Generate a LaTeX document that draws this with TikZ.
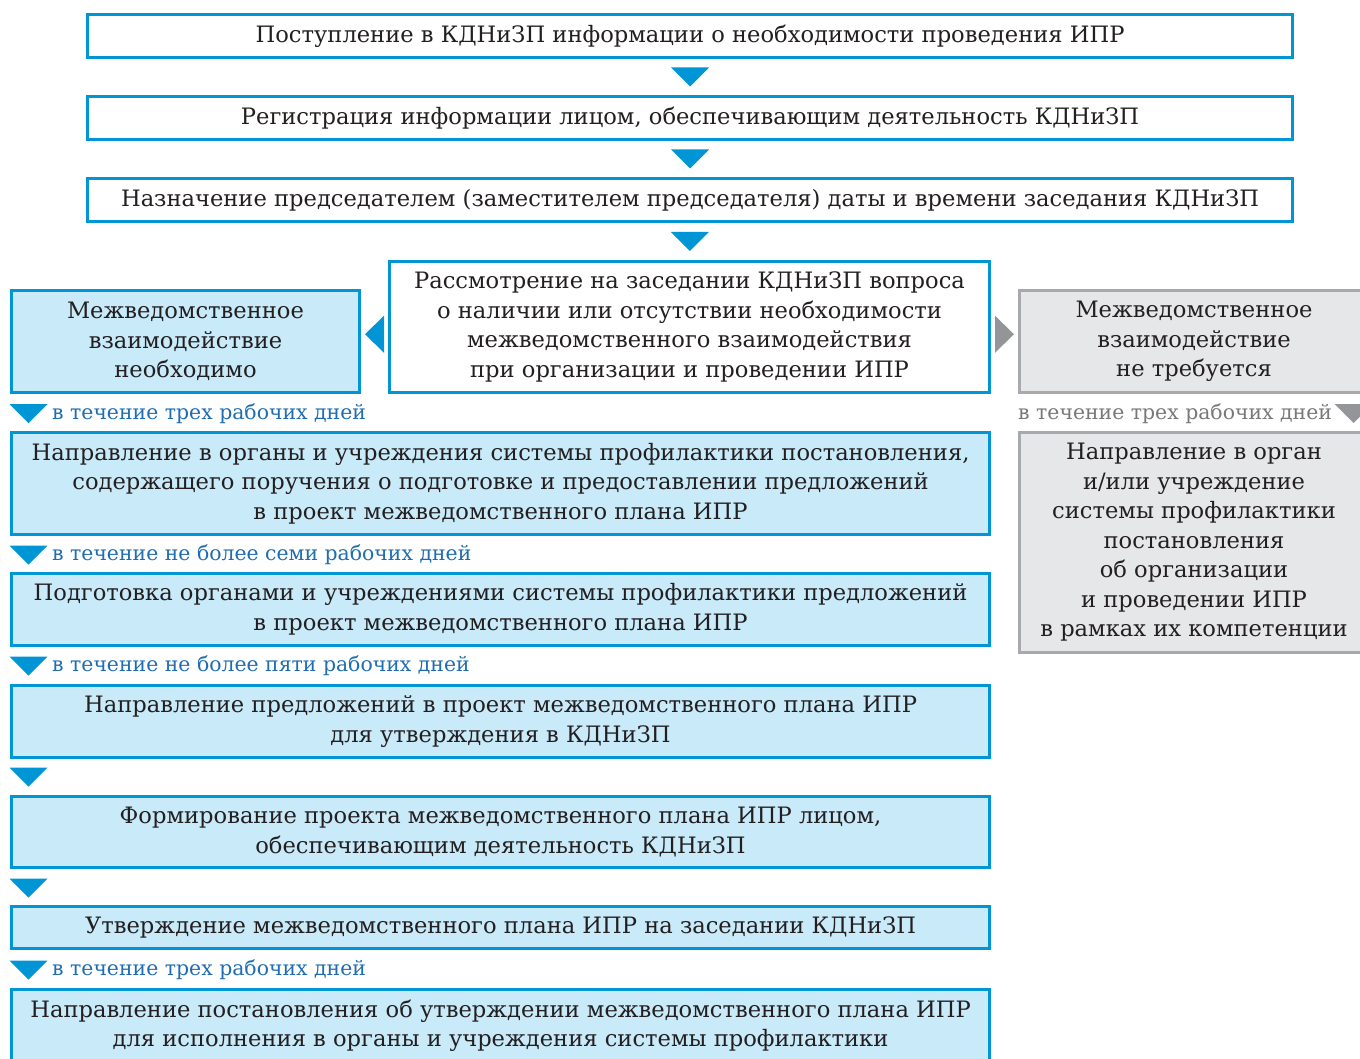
\documentclass[tikz,border=0pt]{standalone}
\usepackage{fontspec}
\setmainfont{DejaVu Serif}
\usetikzlibrary{calc}
\definecolor{bline}{HTML}{0096D6}
\definecolor{bfill}{HTML}{C8EAF9}
\definecolor{gfill}{HTML}{E6E7E8}
\definecolor{gline}{HTML}{A7A9AC}
\definecolor{gtricol}{HTML}{939598}
\definecolor{gtext}{HTML}{77787B}
\definecolor{btext}{HTML}{1F6DB0}
\definecolor{ink}{HTML}{231F20}
\begin{document}
\begin{tikzpicture}[x=1pt,y=-1pt,
  box/.style={rectangle, line width=2.6pt, inner sep=0pt, align=center, text=ink,
    font=\fontsize{22.6}{29.5}\selectfont},
  wbox/.style={box, draw=bline, fill=white},
  lbox/.style={box, draw=bline, fill=bfill},
  gbox/.style={box, draw=gline, fill=gfill},
  lab/.style={anchor=west, inner sep=0pt, font=\fontsize{20.4}{24}\selectfont, text=btext},
  glab/.style={lab, text=gtext},
  dtri/.pic={\fill (-19,-9.5) -- (19,-9.5) -- (0,9.5) -- cycle;},
  ltri/.pic={\fill (-9.5,0) -- (9.5,-18.5) -- (9.5,18.5) -- cycle;},
  rtri/.pic={\fill (9.5,0) -- (-9.5,-18.5) -- (-9.5,18.5) -- cycle;}]
\useasboundingbox (0,0) rectangle (1360,1059);
\clip (0,0) rectangle (1360,1059);

\node[wbox, minimum width=1205.4, minimum height=43.4] (b1) at (690,36)
  {Поступление в КДНиЗП информации о необходимости проведения ИПР};
\node[wbox, minimum width=1205.4, minimum height=43.4] (b2) at (690,118)
  {Регистрация информации лицом, обеспечивающим деятельность КДНиЗП};
\node[wbox, minimum width=1205.4, minimum height=43.4] (b3) at (690,200)
  {Назначение председателем (заместителем председателя) даты и времени заседания КДНиЗП};
\node[wbox, minimum width=600.4, minimum height=131.4] (c) at (689.5,327)
  {Рассмотрение на заседании КДНиЗП вопроса\\о наличии или отсутствии необходимости\\межведомственного взаимодействия\\при организации и проведении ИПР};
\node[lbox, minimum width=348.4, minimum height=102.4] (L) at (185.5,341.5)
  {Межведомственное\\взаимодействие\\необходимо};
\node[gbox, minimum width=349.4, minimum height=102.4] (R) at (1194,341.5)
  {Межведомственное\\взаимодействие\\не требуется};
\node[lbox, minimum width=978.4, minimum height=102.4] (L1) at (500.5,483.5)
  {Направление в органы и учреждения системы профилактики постановления,\\содержащего поручения о подготовке и предоставлении предложений\\в проект межведомственного плана ИПР};
\node[gbox, minimum width=349.4, minimum height=220.4] (R2) at (1194,542.5)
  {Направление в орган\\и/или учреждение\\системы профилактики\\постановления\\об организации\\и проведении ИПР\\в рамках их компетенции};
\node[lbox, minimum width=978.4, minimum height=72.4] (L2) at (500.5,609.5)
  {Подготовка органами и учреждениями системы профилактики предложений\\в проект межведомственного плана ИПР};
\node[lbox, minimum width=978.4, minimum height=72.4] (L3) at (500.5,721.5)
  {Направление предложений в проект межведомственного плана ИПР\\для утверждения в КДНиЗП};
\node[lbox, minimum width=978.4, minimum height=71.4] (L4) at (500.5,832)
  {Формирование проекта межведомственного плана ИПР лицом,\\обеспечивающим деятельность КДНиЗП};
\node[lbox, minimum width=978.4, minimum height=42.4] (L5) at (500.5,927.5)
  {Утверждение межведомственного плана ИПР на заседании КДНиЗП};
\node[lbox, minimum width=978.4, minimum height=72.4] (L6) at (500.5,1025.5)
  {Направление постановления об утверждении межведомственного плана ИПР\\для исполнения в органы и учреждения системы профилактики};

% arrow markers
\pic[fill=bline] at ($(b1.south)!0.5!(b2.north)$) {dtri};
\pic[fill=bline] at ($(b2.south)!0.5!(b3.north)$) {dtri};
\pic[fill=bline] at ($(b3.south)!0.5!(c.north)$) {dtri};
\pic[fill=bline] at ($(L.east)!0.5!(c.west)$) {ltri};
\pic[fill=bline] at (28.5,413.5) {dtri};
\pic[fill=bline] at (28.5,555) {dtri};
\pic[fill=bline] at (28.5,666) {dtri};
\pic[fill=bline] at (28.5,777) {dtri};
\pic[fill=bline] at (28.5,888) {dtri};
\pic[fill=bline] at (28.5,970) {dtri};
\pic[fill=gtricol] at ($(c.east)!0.5!(R.west)$) {rtri};
\pic[fill=gtricol] at (1353.5,413.5) {dtri};

\node[lab] (t1) at (52,413.5) {в течение трех рабочих дней};
\node[lab] (t2) at (52,555) {в течение не более семи рабочих дней};
\node[lab] (t3) at (52,666) {в течение не более пяти рабочих дней};
\node[lab] (t4) at (52,970) {в течение трех рабочих дней};
\node[glab] (t5) at (1018,413.5) {в течение трех рабочих дней};
\end{tikzpicture}
\end{document}
